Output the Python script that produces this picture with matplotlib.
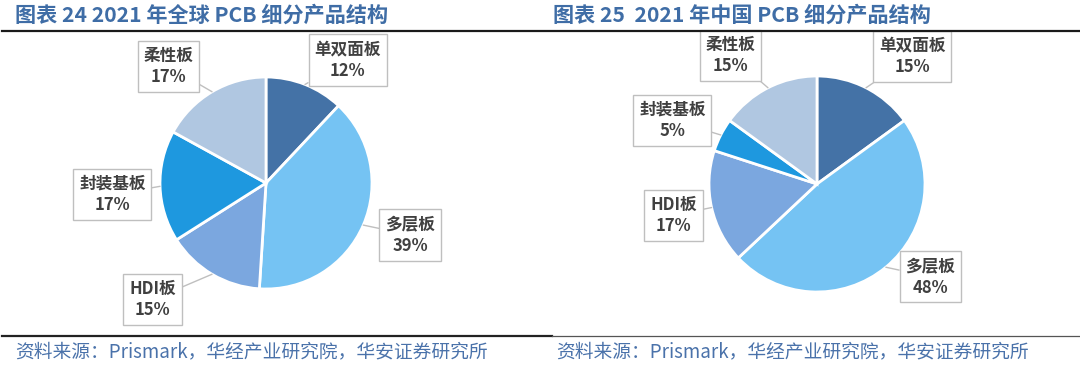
import numpy as np
import matplotlib
matplotlib.use("Agg")
import matplotlib.pyplot as plt
from matplotlib.lines import Line2D

plt.rcParams['font.family'] = ['Noto Sans CJK SC', 'DejaVu Sans']

W, H = 1080, 367

categories = ["单双面板", "多层板", "HDI板", "封装基板", "柔性板"]
colors = ["#4472A6", "#75C3F3", "#7BA7DF", "#1E98DF", "#B0C7E1"]

global_share = [12, 39, 15, 17, 17]
china_share = [15, 48, 17, 5, 15]

titles = ["图表 24 2021 年全球 PCB 细分产品结构",
          "图表 25  2021 年中国 PCB 细分产品结构"]
source = "资料来源：Prismark，华经产业研究院，华安证券研究所"

# label box centres in pie units (radius = 1)
left_label_pos = [(0.77, 1.16), (1.36, -0.49), (-1.07, -1.10), (-1.45, -0.11), (-0.92, 1.10)]
right_label_pos = [(0.88, 1.18), (1.05, -0.86), (-1.33, -0.29), (-1.34, 0.59), (-0.80, 1.19)]

fig = plt.figure(figsize=(W / 100, H / 100), dpi=100)


def draw_pie(cx, cy, R, values, label_pos):
    ax = fig.add_axes([(cx - R) / W, 1 - (cy + R) / H, 2 * R / W, 2 * R / H])
    wedges, _ = ax.pie(
        values,
        colors=colors,
        startangle=90,
        counterclock=False,
        wedgeprops=dict(edgecolor="white", linewidth=2),
    )
    ax.set_xlim(-1, 1)
    ax.set_ylim(-1, 1)
    ax.axis("off")

    for w, name, v, (lx, ly) in zip(wedges, categories, values, label_pos):
        mid = np.deg2rad((w.theta1 + w.theta2) / 2)
        tx, ty = 1.0 * np.cos(mid), 1.0 * np.sin(mid)
        ax.annotate(
            f"{name}\n{v}%",
            xy=(tx, ty),
            xytext=(lx, ly),
            ha="center",
            va="center",
            fontsize=12,
            fontweight="bold",
            color="#404040",
            linespacing=1.25,
            annotation_clip=False,
            bbox=dict(boxstyle="square,pad=0.35", fc="white", ec="#BFBFBF", lw=1),
            arrowprops=dict(arrowstyle="-", color="#BFBFBF", lw=1,
                            shrinkA=0, shrinkB=0),
        )
    return ax


draw_pie(266, 183, 106, global_share, left_label_pos)
draw_pie(817, 184, 108, china_share, right_label_pos)

# titles
fig.text(15 / W, 1 - 15 / H, titles[0], ha="left", va="center",
         fontsize=15.2, fontweight="bold", color="#3F6DA6")
fig.text(553 / W, 1 - 15 / H, titles[1], ha="left", va="center",
         fontsize=15.2, fontweight="bold", color="#3F6DA6")

# rule lines
fig.add_artist(Line2D([2 / W, 1], [1 - 31 / H, 1 - 31 / H], color="#1A1A1A", lw=1.6))
fig.add_artist(Line2D([2 / W, 552 / W], [1 - 336 / H, 1 - 336 / H], color="#222222", lw=1.6))
fig.add_artist(Line2D([552 / W, 1], [1 - 336 / H, 1 - 336 / H], color="#555555", lw=0.9))

# sources
fig.text(15 / W, 1 - 352 / H, source, ha="left", va="center",
         fontsize=13.5, color="#4A72AA", fontweight="light")
fig.text(556 / W, 1 - 352 / H, source, ha="left", va="center",
         fontsize=13.5, color="#4A72AA", fontweight="light")

fig.savefig("out.png", dpi=100)
